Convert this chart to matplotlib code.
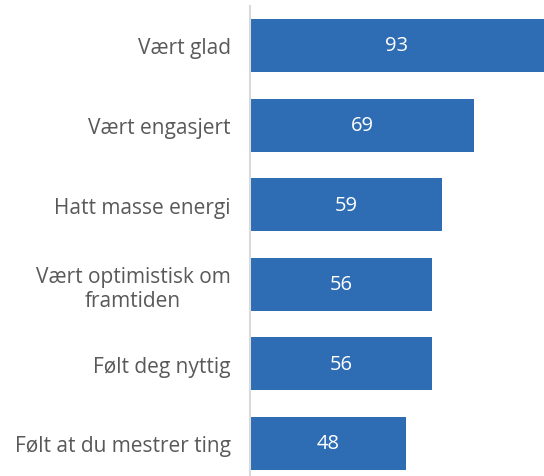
import matplotlib
matplotlib.use("Agg")
import matplotlib.pyplot as plt

categories = ["Vært glad", "Vært engasjert", "Hatt masse energi",
              "Vært optimistisk om\nframtiden", "Følt deg nyttig",
              "Følt at du mestrer ting"]
values = [93, 69, 59, 56, 56, 48]

W, H = 544, 477
fig = plt.figure(figsize=(W/100, H/100), dpi=100)
plt.rcParams['font.family'] = ['Open Sans', 'DejaVu Sans']

left = 250/W
top_px = 6.7
slot = 79.6
bottom_px = top_px + slot*len(categories)
ax = fig.add_axes([left, 1 - bottom_px/H, 1 - left, (bottom_px - top_px)/H])

pos = list(range(len(categories)))
ax.barh(pos, values, height=0.665, color="#2E6DB4", left=0)
ax.set_ylim(len(categories) - 0.5, -0.5)
xmax = 90.5
ax.set_xlim(0, xmax)

for p, v in zip(pos, values):
    xc = v/2 if v < xmax else xmax/2
    ax.text(xc, p, str(v), ha="center", va="center",
            color="white", fontsize=14.5)

ax.set_yticks(pos)
ax.set_yticklabels(categories, fontsize=15, color="#595959", linespacing=1.2)
for lbl in ax.get_yticklabels():
    lbl.set_multialignment("center")
ax.tick_params(axis="y", length=0, pad=14)
ax.set_xticks([])
for s in ["top", "right", "bottom"]:
    ax.spines[s].set_visible(False)
ax.spines["left"].set_color("#D9D9D9")
ax.spines["left"].set_linewidth(1.5)

fig.savefig("out.png", dpi=100)
